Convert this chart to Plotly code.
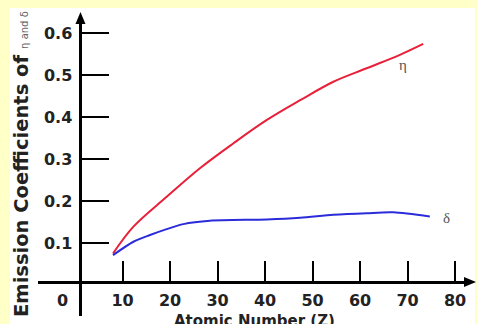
import plotly.graph_objects as go

# ---- data ----
eta_z = [8, 12.3, 19.3, 26.3, 33.3, 40.4, 47.4, 54.4, 61.4, 68.4, 73.3]
eta_v = [0.075, 0.139, 0.210, 0.278, 0.337, 0.393, 0.440, 0.484, 0.516, 0.548, 0.574]

delta_z = [8, 12.3, 15.8, 19.3, 22.8, 28.4, 40.4, 47.4, 54.4, 61.4, 67, 74.7]
delta_v = [0.071, 0.103, 0.119, 0.133, 0.145, 0.153, 0.156, 0.160, 0.167, 0.171, 0.173, 0.163]

x_ticks = [10, 20, 30, 40, 50, 60, 70, 80]
y_ticks = [0.1, 0.2, 0.3, 0.4, 0.5, 0.6]
y_tick_text = ["0.1", "0.2", "0.3", "0.4", "0.5", "0.6"]

FONT = "DejaVu Sans"
TXT = "#222222"

fig = go.Figure()
fig.add_trace(go.Scatter(x=eta_z, y=eta_v, mode="lines",
                         line=dict(color="#E8203A", width=2, shape="spline", smoothing=1.0),
                         showlegend=False, hoverinfo="skip"))
fig.add_trace(go.Scatter(x=delta_z, y=delta_v, mode="lines",
                         line=dict(color="#2B2BD9", width=2, shape="spline", smoothing=0.8),
                         showlegend=False, hoverinfo="skip"))

YPOS = 0.0988
XPOS = 0.1149

fig.update_layout(
    width=477, height=324,
    margin=dict(l=38, r=9, t=20, b=8),
    paper_bgcolor="#FFFFC8",
    plot_bgcolor="rgba(0,0,0,0)",
    showlegend=False,
    xaxis=dict(range=[-7.789, 82.737], anchor="free", position=XPOS,
               showline=True, linecolor="black", linewidth=3,
               showgrid=False, zeroline=False,
               tickvals=x_ticks, ticks="inside", ticklen=20, tickwidth=2, tickcolor="black",
               tickfont=dict(family=FONT, size=16, color=TXT, weight="bold"),
               ticklabelstandoff=3),
    yaxis=dict(range=[-0.0738, 0.6310], anchor="free", position=YPOS,
               showline=True, linecolor="black", linewidth=3,
               showgrid=False, zeroline=False,
               tickvals=y_ticks, ticktext=y_tick_text,
               ticks="inside", ticklen=27, tickwidth=2, tickcolor="black",
               tickfont=dict(family=FONT, size=16, color=TXT, weight="bold"),
               ticklabelstandoff=4),
)

# white panel over the yellow page
fig.add_shape(type="rect", xref="paper", yref="paper",
              x0=-0.0651, x1=1.0163, y0=-0.03, y1=1.0405,
              fillcolor="white", line=dict(width=0), layer="below")

# arrow heads
fig.add_shape(type="path", xref="paper", yref="paper", xsizemode="pixel", ysizemode="pixel",
              xanchor=YPOS, yanchor=1, path="M -5,-4 L 5,-4 L 0,8 Z",
              fillcolor="black", line=dict(width=0))
fig.add_shape(type="path", xref="paper", yref="paper", xsizemode="pixel", ysizemode="pixel",
              xanchor=1, yanchor=XPOS, path="M -4,-5 L -4,5 L 8,0 Z",
              fillcolor="black", line=dict(width=0))

# origin label
fig.add_annotation(x=0, y=0, xref="x", yref="y", text="0", showarrow=False,
                   xshift=-13, yshift=-15,
                   font=dict(family=FONT, size=16, color=TXT, weight="bold"))

# curve labels
fig.add_annotation(x=69.1, y=0.524, text="η", showarrow=False,
                   font=dict(family="Liberation Serif", size=15, color="#555555"))
fig.add_annotation(x=78.3, y=0.160, text="δ", showarrow=False,
                   font=dict(family="Liberation Serif", size=15, color="#555555"))

# axis titles
fig.add_annotation(x=(21 - 38) / 430, y=0, xref="paper", yref="paper",
                   xanchor="center", yanchor="bottom", yshift=-3,
                   textangle=-90, showarrow=False,
                   text="<b>Emission Coefficients of</b> <span style='font-size:10px;color:#666666'>η and δ</span>",
                   font=dict(family=FONT, size=19.5, color=TXT))
fig.add_annotation(x=(254 - 38) / 430, y=0.0, xref="paper", yref="paper",
                   xanchor="center", yanchor="top", yshift=6,
                   showarrow=False, text="<b>Atomic Number (Z)</b>",
                   font=dict(family=FONT, size=15, color=TXT))

fig.write_html("out.html", config={"displayModeBar": False},
               post_script="document.body.style.margin='0px';")
